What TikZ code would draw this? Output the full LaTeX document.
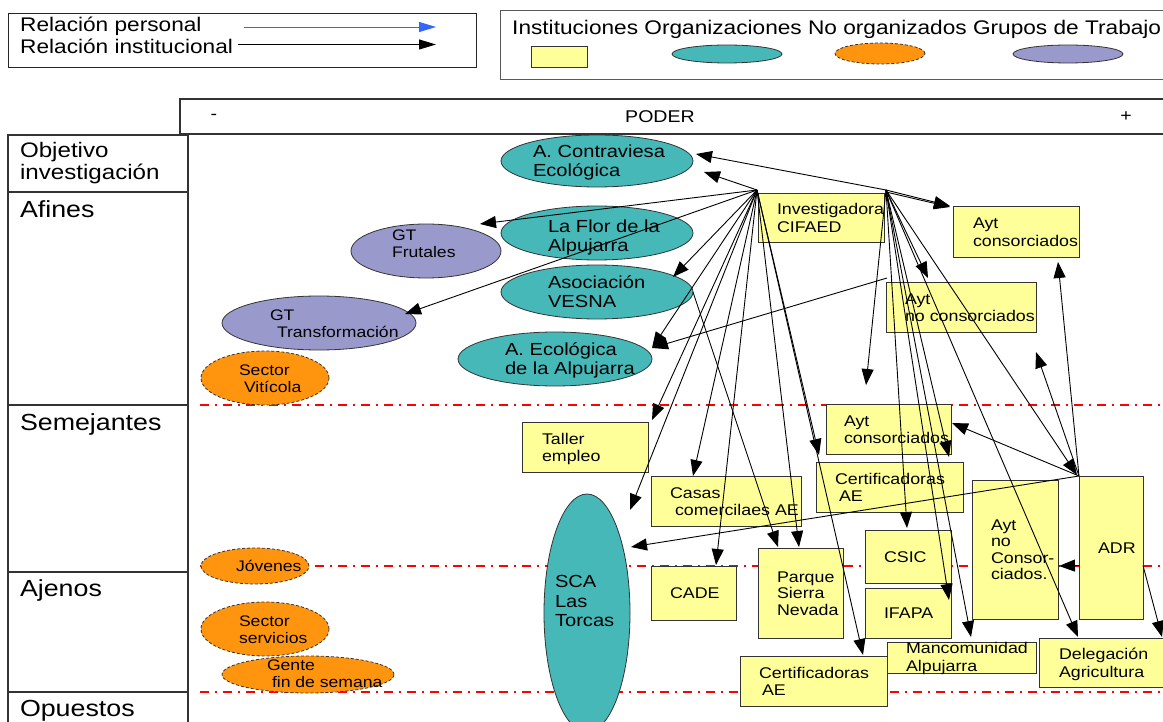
\documentclass[tikz,border=0pt]{standalone}
\usepackage{fontspec}
\setmainfont{Liberation Sans}[FakeStretch=1.15]
\usetikzlibrary{shapes.geometric,arrows.meta,calc}
\definecolor{cyel}{HTML}{FFFF99}
\definecolor{cteal}{HTML}{47B8B8}
\definecolor{corange}{HTML}{FF950E}
\definecolor{cpurple}{HTML}{9999CC}
\definecolor{cbord}{HTML}{333333}
\definecolor{cblue}{HTML}{3366FF}
\definecolor{cred}{HTML}{FF0000}
\newcommand{\NT}[3]{\makebox[0pt][l]{\hspace*{#1pt}\raisebox{\dimexpr-0.38em-(#2pt)\relax}[0pt][0pt]{\begin{tabular}{@{}l@{}}#3\end{tabular}}}}
\begin{document}
\begin{tikzpicture}[x=1pt,y=-1pt,
  base/.style={inner sep=0pt, outer sep=0pt},
  sz/.style 2 args={minimum width=#1pt, minimum height=#2pt},
  inst/.style={base, rectangle, draw=cbord, fill=cyel, line width=0.9pt, font=\fontsize{15.5}{17.5}\selectfont},
  org/.style={base, ellipse, draw=cbord, fill=cteal, line width=0.8pt, font=\fontsize{17.5}{18.5}\selectfont},
  noorg/.style={base, ellipse, draw=cbord, fill=corange, line width=0.8pt, dash pattern=on 3pt off 2pt, font=\fontsize{15.3}{17}\selectfont},
  gtw/.style={base, ellipse, draw=cbord, fill=cpurple, line width=0.8pt, font=\fontsize{15.3}{17}\selectfont},
  arr/.style={-{Triangle[length=16pt,width=12pt]}, line width=0.9pt, black},
  legarr/.style={-{Triangle[length=17pt,width=10pt]}, line width=0.9pt},
  frame/.style={draw=cbord, line width=1.2pt},
  sepline/.style={cred, line width=1.2pt, dash pattern=on 9pt off 6pt on 2pt off 6pt},
  lt/.style={anchor=base west, inner sep=0pt, font=\fontsize{19.7}{20}\selectfont},
  ptext/.style={inner sep=0pt, font=\fontsize{17}{17}\selectfont},
  rowlab/.style={base, font=\fontsize{23.3}{23.3}\selectfont}
]
\useasboundingbox (0,0) rectangle (1163,722);
\clip (0,0) rectangle (1163,722);

% ---------- legend 1
\draw[line width=1pt, black!85] (8,14) rectangle (476,68);
\node[lt] (lrp) at (20,31.5) {Relación personal};
\node[lt] (lri) at (20,54) {Relación institucional};
\coordinate (lp1) at (244,27);
\coordinate (lp2) at (436,27);
\coordinate (li1) at (238,44.5);
\coordinate (li2) at (436,44.5);
\draw[legarr, cblue] (lp1) -- (lp2);
\draw[legarr, black] (li1) -- (li2);

% ---------- legend 2
\draw[line width=1pt, black!65] (500,11) rectangle (1175,80);
\node[lt] (ltit) at (512,35) {Instituciones Organizaciones No organizados Grupos de Trabajo};
\node[inst, sz={56}{21}] (kinst) at (559,56.5) {};
\node[org, sz={110}{18}] (korg) at (727,54) {};
\node[noorg, sz={90}{21}] (knoorg) at (880,53.5) {};
\node[gtw, sz={110}{18}] (kgt) at (1068,54) {};

% ---------- PODER bar
\draw[frame] (180,99) rectangle (1175,134);
\node[ptext] (pmin) at (214,117) {-};
\node[ptext] (poder) at (660,117) {PODER};
\node[ptext] (pplus) at (1126,117) {+};

% ---------- row frame
\draw[frame] (8,135) rectangle (188,740);
\foreach \yy in {192,405,572,692} \draw[frame] (8,\yy) -- (188,\yy);
\node[rowlab, font=\fontsize{21}{21.5}\selectfont] (robj) at (20,161.7) {\NT{0}{0}{Objetivo\\investigación}};
\node[rowlab] (rafi) at (20,209.5) {\NT{0}{0}{Afines}};
\node[rowlab] (rsem) at (20,423) {\NT{0}{0}{Semejantes}};
\node[rowlab] (raje) at (20,588.5) {\NT{0}{0}{Ajenos}};
\node[rowlab] (ropu) at (20,709) {\NT{0}{0}{Opuestos}};

% ---------- separators
\foreach \yy in {405,566,692} \draw[sepline] (200,\yy) -- (1170,\yy);

% ---------- organisations
\node[org, sz={192}{52}] (contraviesa) at (597,161) {\NT{-64}{0}{A. Contraviesa\\Ecológica}};
\node[org, sz={192}{54}] (laflor) at (597,233) {\NT{-49}{3}{La Flor de la\\Alpujarra}};
\node[org, sz={192}{54}] (vesna) at (597,292) {\NT{-49}{0}{Asociación\\VESNA}};
\node[org, sz={194}{54}] (aeco) at (555,359) {\NT{-50}{0}{A. Ecológica\\de la Alpujarra}};
\node[org, sz={86}{238}, font=\fontsize{17.5}{19.5}\selectfont] (sca) at (587,613) {\NT{-32}{-12}{SCA\\Las\\Torcas}};

% ---------- working groups
\node[gtw, sz={150}{54}] (gtfrut) at (426,251) {\NT{-34}{-8}{GT\\Frutales}};
\node[gtw, sz={194}{54}] (gtrans) at (319,323) {\NT{-49}{0}{GT\\\hspace*{7pt}Transformación}};

% ---------- not organised
\node[noorg, sz={128}{54}] (vitic) at (265,378) {\NT{-26}{0}{Sector\\\hspace*{5pt}Vitícola}};
\node[noorg, sz={108}{36}] (jovenes) at (255,566) {\NT{-19}{0}{Jóvenes}};
\node[noorg, sz={128}{54}] (servic) at (265,629) {\NT{-26}{0}{Sector\\servicios}};
\node[noorg, sz={172}{37}] (gente) at (308,674.5) {\NT{-41}{-1}{Gente\\\hspace*{5pt}fin de semana}};

% ---------- institutions
\node[inst, sz={126}{49}] (cifaed) at (821,217.5) {\NT{-44}{0}{Investigadora\\CIFAED}};
\node[inst, sz={126}{51}] (ayttop) at (1016,231.5) {\NT{-43}{0}{Ayt\\consorciados}};
\node[inst, sz={150}{50}] (aytnc) at (961,307) {\NT{-56}{0}{Ayt\\no consorciados}};
\node[inst, sz={126}{50}] (taller) at (585,447) {\NT{-43}{0}{Taller\\empleo}};
\node[inst, sz={150}{50}] (casas) at (726,501) {\NT{-56}{0}{Casas\\\hspace*{5pt}comercilaes AE}};
\node[inst, sz={85}{54}] (cade) at (693.5,593) {\NT{-23.5}{0}{CADE}};
\node[inst, sz={85}{90}, font=\fontsize{15.5}{16.5}\selectfont] (parque) at (800.5,593) {\NT{-23.5}{0}{Parque\\Sierra\\Nevada}};
\node[inst, sz={147}{50}] (certb) at (813.5,681) {\NT{-54.5}{0}{Certificadoras\\\hspace*{3pt}AE}};
\node[inst, sz={125}{50}] (aytmid) at (888.5,429) {\NT{-44.5}{0}{Ayt\\consorciados}};
\node[inst, sz={147}{50}] (certm) at (889.5,487) {\NT{-54.5}{0}{Certificadoras\\\hspace*{4pt}AE}};
\node[inst, sz={86}{53}] (csic) at (908,556.5) {\NT{-24}{0}{CSIC}};
\node[inst, sz={86}{50}] (ifapa) at (908,613) {\NT{-24}{0}{IFAPA}};
\node[inst, sz={149}{31}] (manc) at (961.5,657.5) {\NT{-55.5}{-1}{Mancomunidad\\Alpujarra}};
\node[inst, sz={86}{139}, font=\fontsize{15.5}{16.5}\selectfont] (aytnc2) at (1015,549.5) {\NT{-24}{0}{Ayt\\no\\Consor-\\ciados.}};
\node[inst, sz={64}{143}] (adr) at (1111,547.5) {\NT{-13}{0}{ADR}};
\node[inst, sz={141}{49}] (deleg) at (1109.5,662.5) {\NT{-50.5}{0}{Delegación\\Agricultura}};

% ---------- hubs
\coordinate (hA) at ($(cifaed.north west)+(-1,-3)$);
\coordinate (hB) at ($(cifaed.north east)+(2,-3)$);

% ---------- connectors from hub A
\draw[arr] (hA) -- ($(contraviesa.east)+(11,11)$);
\draw[arr] (hA) -- ($(gtfrut.north)+(54,0)$);
\draw[arr] (hA) -- ($(gtrans.center)+(86,-9)$);
\draw[arr] (hA) -- ($(vesna.center)+(76,-15)$);
\draw[arr] (hA) -- ($(aeco.east)+(0,-11)$);
\draw[arr] (hA) -- ($(taller.north east)+(4,-2)$);
\draw[arr] (hA) -- ($(sca.center)+(43,-103)$);
\draw[arr] (hA) -- ($(casas.north)+(-33,0)$);
\draw[arr] (hA) -- ($(cade.north)+(22.5,-1)$);
\draw[arr] (hA) -- ($(parque.north)+(-1.5,-1)$);
\draw[arr] (hA) -- ($(aytmid.south west)+(-7,1)$);
\draw[arr] (hA) -- ($(certb.north east)+(-24,-1)$);

% ---------- connectors from hub B
\draw[arr] (hB) -- ($(contraviesa.east)+(3,-7)$);
\draw[arr] (hB) -- ($(ayttop.north west)+(-3,0)$);
\draw[arr] ($(hB)+(0,2)$) -- ($(ayttop.north west)+(-3,1)$);
\draw[arr] (hB) -- ($(aytnc.north)+(-33,-4)$);
\draw[arr] (hB) -- ($(aytmid.north)+(-22.5,-19)$);
\draw[arr] (hB) -- ($(aytmid.south east)+(-2,3)$);
\draw[arr] (hB) -- ($(csic.north)+(-1,-2)$);
\draw[arr] (hB) -- ($(ifapa.north east)+(-2,12)$);
\draw[arr] (hB) -- ($(manc.north)+(9.5,-5)$);
\draw[arr] (hB) -- ($(deleg.north west)+(39,-1)$);
\draw[arr] (hB) -- ($(adr.north west)+(-2,-1)$);

% ---------- other connectors
\draw[arr] (vesna.east) -- ($(parque.north west)+(20,-1)$);
\draw[arr] ($(aytnc.north west)+(1,-4)$) -- ($(aeco.east)+(0,-11)$);
\draw[arr] (adr.north west) -- ($(sca.center)+(44,-66)$);
\draw[arr] (adr.north west) -- ($(aytmid.east)+(1,-6)$);
\draw[arr] (adr.north west) -- ($(aytnc.south east)+(0,20)$);
\draw[arr] (adr.north west) -- ($(ayttop.south)+(42,5)$);
\draw[arr] ($(adr.west)+(0,18)$) -- ($(aytnc2.east)+(1,16.5)$);
\draw[arr] ($(adr.east)+(0,18)$) -- ($(deleg.north)+(52.5,-1)$);
\end{tikzpicture}
\end{document}
